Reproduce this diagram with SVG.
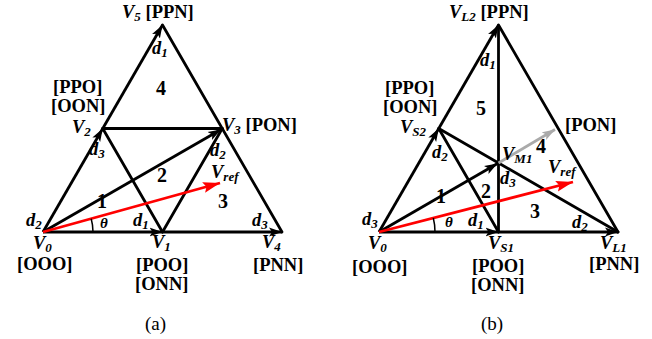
<svg xmlns="http://www.w3.org/2000/svg" width="652" height="339" viewBox="0 0 652 339">
<style>
text{font-family:"Liberation Serif","Times New Roman",serif;font-weight:bold;font-size:18.5px;fill:#000}
.v{font-style:italic}
.s{font-size:13px;font-style:italic}
.n{font-size:20px}
.t{font-style:italic;font-size:15px}
.cap{font-weight:normal;font-size:19px}
.ln{stroke:#000;stroke-width:2.8;fill:none;stroke-linecap:round}
.ar{stroke:#000;stroke-width:2.8;fill:none;marker-end:url(#ah)}
.red{stroke:#f00;stroke-width:2.8;fill:none;marker-end:url(#ahr)}
.gr{stroke:#aaa;stroke-width:2.8;fill:none;marker-end:url(#ahg)}
</style>
<defs>
<marker id="ah" markerUnits="userSpaceOnUse" markerWidth="14" markerHeight="10" refX="13" refY="5" orient="auto"><path d="M0,0.5 L13,5 L0,9.5 L3,5 z" fill="#000"/></marker>
<marker id="ahr" markerUnits="userSpaceOnUse" markerWidth="18" markerHeight="12" refX="17" refY="6" orient="auto"><path d="M0,0.5 L17,6 L0,11.5 L3,6 z" fill="#f00"/></marker>
<marker id="ahg" markerUnits="userSpaceOnUse" markerWidth="14" markerHeight="10" refX="13" refY="5" orient="auto"><path d="M0,0.5 L13,5 L0,9.5 L3,5 z" fill="#aaa"/></marker>
</defs>
<g id="connectors">
<!-- (a) -->
<line class="ln" x1="162.5" y1="25" x2="282" y2="232"/>
<line class="ln" x1="102.75" y1="128.5" x2="222.25" y2="128.5"/>
<line class="ln" x1="102.75" y1="128.5" x2="162.5" y2="232"/>
<line class="ln" x1="162.5" y1="232" x2="222.25" y2="128.5"/>
<line class="ar" x1="43" y1="232" x2="162.5" y2="232"/>
<line class="ar" x1="162.5" y1="232" x2="282" y2="232"/>
<line class="ar" x1="43" y1="232" x2="102.75" y2="128.5"/>
<line class="ar" x1="102.75" y1="128.5" x2="162.5" y2="25"/>
<line class="ar" x1="43" y1="232" x2="221" y2="129.5"/>
<line class="red" x1="43" y1="232" x2="220" y2="183"/>
<path d="M93,232 A50,50 0 0 0 91.2,218.8" stroke="#000" stroke-width="1.5" fill="none"/>
<!-- (b) -->
<line class="ln" x1="498.5" y1="25" x2="618" y2="232"/>
<line class="ln" x1="498.5" y1="232" x2="498.5" y2="27"/>
<line class="ln" x1="438.75" y1="128.5" x2="498.5" y2="232"/>
<line class="ln" x1="438.75" y1="128.5" x2="618" y2="232"/>
<line class="ar" x1="379" y1="232" x2="498.5" y2="232"/>
<line class="ar" x1="498.5" y1="232" x2="618" y2="232"/>
<line class="ar" x1="379" y1="232" x2="438.75" y2="128.5"/>
<line class="ar" x1="438.75" y1="128.5" x2="498.5" y2="25"/>
<line class="ar" x1="379" y1="232" x2="497.5" y2="163.5"/>
<line class="gr" x1="498.5" y1="163" x2="555" y2="129.5"/>
<line class="red" x1="379" y1="232" x2="573" y2="182"/>
<path d="M435,232 A56,56 0 0 0 433.3,218" stroke="#000" stroke-width="1.5" fill="none"/>
</g>
<g id="labels-a">
<text x="122" y="18"><tspan class="v">V</tspan><tspan class="s" dy="3">5</tspan><tspan dy="-3"> [PPN]</tspan></text>
<text x="152" y="54" class="v">d<tspan class="s" dy="3">1</tspan></text>
<text x="156" y="95" class="n">4</text>
<text x="53" y="93">[PPO]</text>
<text x="51" y="112">[OON]</text>
<text x="72" y="133"><tspan class="v">V</tspan><tspan class="s" dy="3">2</tspan></text>
<text x="89" y="155" class="v">d<tspan class="s" dy="3">3</tspan></text>
<text x="222" y="131"><tspan class="v">V</tspan><tspan class="s" dy="3">3</tspan><tspan dy="-3"> [PON]</tspan></text>
<text x="210" y="156" class="v">d<tspan class="s" dy="3">2</tspan></text>
<text x="211" y="178"><tspan class="v">V</tspan><tspan class="s" dy="3">ref</tspan></text>
<text x="157" y="182" class="n">2</text>
<text x="218" y="208" class="n">3</text>
<text x="97" y="208" class="n">1</text>
<text x="26" y="226" class="v">d<tspan class="s" dy="3">2</tspan></text>
<text x="100" y="228" class="t">θ</text>
<text x="133" y="226" class="v">d<tspan class="s" dy="3">1</tspan></text>
<text x="33" y="249"><tspan class="v">V</tspan><tspan class="s" dy="3">0</tspan></text>
<text x="17" y="270">[OOO]</text>
<text x="152" y="248"><tspan class="v">V</tspan><tspan class="s" dy="3">1</tspan></text>
<text x="136" y="271">[POO]</text>
<text x="135" y="290">[ONN]</text>
<text x="252" y="226" class="v">d<tspan class="s" dy="3">3</tspan></text>
<text x="262" y="248"><tspan class="v">V</tspan><tspan class="s" dy="3">4</tspan></text>
<text x="253" y="271">[PNN]</text>
<text x="145" y="330" class="cap">(a)</text>
</g>
<g id="labels-b">
<text x="449" y="18"><tspan class="v">V</tspan><tspan class="s" dy="3">L2</tspan><tspan dy="-3"> [PPN]</tspan></text>
<text x="480" y="66" class="v">d<tspan class="s" dy="3">1</tspan></text>
<text x="476" y="115" class="n">5</text>
<text x="385" y="94">[PPO]</text>
<text x="383" y="113">[OON]</text>
<text x="400" y="133"><tspan class="v">V</tspan><tspan class="s" dy="3">S2</tspan></text>
<text x="432" y="158" class="v">d<tspan class="s" dy="3">2</tspan></text>
<text x="502" y="160"><tspan class="v">V</tspan><tspan class="s" dy="3">M1</tspan></text>
<text x="536" y="153" class="n">4</text>
<text x="565" y="131">[PON]</text>
<text x="548" y="173"><tspan class="v">V</tspan><tspan class="s" dy="3">ref</tspan></text>
<text x="500" y="184" class="v">d<tspan class="s" dy="3">3</tspan></text>
<text x="481" y="198" class="n">2</text>
<text x="436" y="203" class="n">1</text>
<text x="530" y="218" class="n">3</text>
<text x="362" y="225" class="v">d<tspan class="s" dy="3">3</tspan></text>
<text x="445" y="227" class="t">θ</text>
<text x="468" y="226" class="v">d<tspan class="s" dy="3">1</tspan></text>
<text x="572" y="228" class="v">d<tspan class="s" dy="3">2</tspan></text>
<text x="368" y="249"><tspan class="v">V</tspan><tspan class="s" dy="3">0</tspan></text>
<text x="352" y="273">[OOO]</text>
<text x="488" y="249"><tspan class="v">V</tspan><tspan class="s" dy="3">S1</tspan></text>
<text x="472" y="272">[POO]</text>
<text x="471" y="291">[ONN]</text>
<text x="600" y="249"><tspan class="v">V</tspan><tspan class="s" dy="3">L1</tspan></text>
<text x="589" y="270">[PNN]</text>
<text x="481" y="330" class="cap">(b)</text>
</g>
</svg>
